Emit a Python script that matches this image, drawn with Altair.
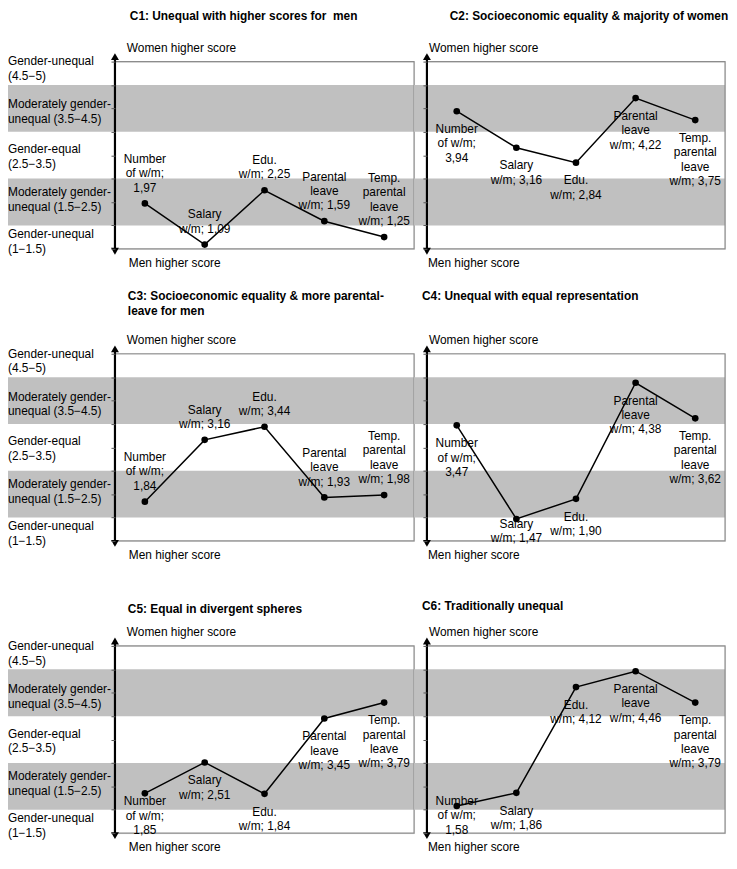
import altair as alt
import pandas as pd

# ---------------- data ----------------
categories = ["Number", "Salary", "Edu", "Parental", "Temp"]
label_heads = ["Number\nof w/m;", "Salary\nw/m;", "Edu.\nw/m;",
               "Parental\nleave\nw/m;", "Temp.\nparental\nleave\nw/m;"]
label_joiners = ["\n", " ", " ", " ", " "]

titles = [
    "C1: Unequal with higher scores for \u00a0men",
    "C2: Socioeconomic equality & majority of women",
    "C3: Socioeconomic equality & more parental-\nleave for men",
    "C4: Unequal with equal representation",
    "C5: Equal in divergent spheres",
    "C6: Traditionally unequal",
]

c1 = [1.97, 1.09, 2.25, 1.59, 1.25]
c2 = [3.94, 3.16, 2.84, 4.22, 3.75]
c3 = [1.84, 3.16, 3.44, 1.93, 1.98]
c4 = [3.47, 1.47, 1.90, 4.38, 3.62]
c5 = [1.85, 2.51, 1.84, 3.45, 3.79]
c6 = [1.58, 1.86, 4.12, 4.46, 3.79]
series = [c1, c2, c3, c4, c5, c6]

band_lo = [1.5, 3.5]
band_hi = [2.5, 4.5]

region_lo = [4.5, 3.5, 2.5, 1.5, 1.0]
region_hi = [5.0, 4.5, 3.5, 2.5, 1.5]
region_text = [
    "Gender-unequal\n(4.5\u22125)",
    "Moderately gender-\nunequal (3.5\u22124.5)",
    "Gender-equal\n(2.5\u22123.5)",
    "Moderately gender-\nunequal (1.5\u22122.5)",
    "Gender-unequal\n(1\u22121.5)",
]

# ---------------- layout / style (not data) ----------------
FONT = "Liberation Sans"
H = 189
W_LEFT = 302
W_RIGHT = 301
LH = 14.5
label_above = [True, False, True, False, False, False]
label_dy = [
    [-9, -9, -9, -9, -9],
    [13, 13, 13, 13, 13],
    [-9, -9, -9, -9, -9],
    [13, 0, 13, 13, 13],
    [3, 13, 13, 13, 13],
    [-10, 13, 13, 13, 13],
]
region_nudge = [-6, 2, 0, -4, 3]
title_pos = [(15, -51), (23, -51), (13, -63), (-5, -63), (13, -42), (-5, -45)]

one = pd.DataFrame({"k": [0]})
yscale = alt.Scale(domain=[1, 5], nice=False, zero=False)
yaxis = alt.Axis(values=[1, 1.5, 2, 2.5, 3, 3.5, 4, 4.5, 5], labels=False, domain=False,
                 grid=False, title=None, ticks=True, tickSize=4, tickColor="#595959",
                 tickWidth=1, zindex=1)


def fmt(v):
    return f"{v:.2f}".replace(".", ",")


def panel(i):
    left = (i % 2 == 0)
    W = W_LEFT if left else W_RIGHT
    vals = series[i]
    texts = [h + j + fmt(v) for h, j, v in zip(label_heads, label_joiners, vals)]
    if label_above[i]:
        dys = [d - (t.count("\n")) * LH for d, t in zip(label_dy[i], texts)]
    else:
        dys = list(label_dy[i])
    df = pd.DataFrame({"cat": categories, "value": vals, "label": texts, "dy": dys})
    xenc = alt.X("cat:N", sort=categories, scale=alt.Scale(type="point", padding=0.5), axis=None)

    bands = alt.Chart(pd.DataFrame({"lo": band_lo, "hi": band_hi})).mark_rect(
        color="#c0c0c0").encode(
        y=alt.Y("lo:Q", scale=yscale, axis=yaxis),
        y2="hi:Q",
        x=alt.value(-112 if left else -13),
        x2=alt.value(W),
    )
    box = alt.Chart(one).mark_rect(fillOpacity=0, stroke="#8c8c8c", strokeWidth=1.2).encode(
        x=alt.value(0), x2=alt.value(W), y=alt.value(0), y2=alt.value(H))
    layers = [bands, box]

    if left:
        rdf = pd.DataFrame({"mid": [(a + b) / 2 for a, b in zip(region_lo, region_hi)],
                            "text": region_text,
                            "nudge": [n - 6 for n in region_nudge]})
        for n in sorted(set(rdf["nudge"])):
            sub = rdf[rdf["nudge"] == n]
            layers.append(alt.Chart(sub).mark_text(
                font=FONT, fontSize=12, align="left", baseline="middle", lineBreak="\n",
                lineHeight=15, dy=float(n), color="black").encode(
                x=alt.value(-108), y=alt.Y("mid:Q", scale=yscale, axis=yaxis), text="text:N"))

    arrow = alt.Chart(one).mark_rule(color="black", strokeWidth=2.2).encode(
        x=alt.value(0), y=alt.value(-6), y2=alt.value(H + 4))
    head_up = alt.Chart(one).mark_point(shape="triangle-up", filled=True, size=64,
                                        color="black", opacity=1).encode(
        x=alt.value(0), y=alt.value(-5))
    head_dn = alt.Chart(one).mark_point(shape="triangle-down", filled=True, size=64,
                                        color="black", opacity=1).encode(
        x=alt.value(0), y=alt.value(H + 2.5))
    layers += [arrow, head_up, head_dn]

    women = alt.Chart(one).mark_text(font=FONT, fontSize=12, align="left", baseline="middle",
                                     color="black", text="Women higher score").encode(
        x=alt.value(12 if left else 2), y=alt.value(-14))
    men = alt.Chart(one).mark_text(font=FONT, fontSize=12, align="left", baseline="middle",
                                   color="black", text="Men higher score").encode(
        x=alt.value(14 if left else 1), y=alt.value(H + 14))
    tx, ty = title_pos[i]
    title = alt.Chart(one).mark_text(font=FONT, fontSize=12, fontWeight="bold", align="left",
                                     baseline="top", lineBreak="\n", lineHeight=15,
                                     color="black", text=titles[i]).encode(
        x=alt.value(tx), y=alt.value(ty))
    layers += [women, men, title]

    base = alt.Chart(df).encode(x=xenc, y=alt.Y("value:Q", scale=yscale, axis=yaxis))
    line = base.mark_line(color="black", strokeWidth=1.5)
    pts = base.mark_circle(color="black", size=45, opacity=1)
    layers += [line, pts]

    for d in sorted(set(dys)):
        sub = df[df["dy"] == d]
        layers.append(alt.Chart(sub).mark_text(
            font=FONT, fontSize=12, align="center",
            baseline="bottom" if label_above[i] else "top",
            lineBreak="\n", lineHeight=LH, dy=float(d), color="black").encode(
            x=xenc, y=alt.Y("value:Q", scale=yscale, axis=yaxis), text="label:N"))

    return alt.layer(*layers).properties(width=W, height=H)


chart = alt.concat(*[panel(i) for i in range(6)], columns=2,
                   spacing=alt.RowColnumber(row=106, column=13),
                   bounds="flush").properties(
    padding={"top": -3, "left": -5, "right": 0, "bottom": 0}).configure_view(
    stroke=None).configure(font=FONT)

chart.save("out.html", embed_options={"renderer": "svg", "actions": False})
